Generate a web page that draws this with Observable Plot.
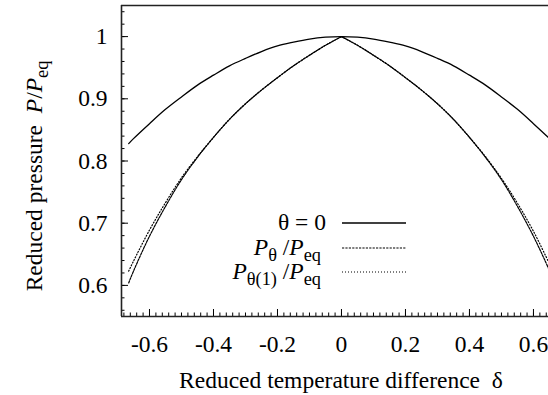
<!DOCTYPE html>
<html>
<head>
<meta charset="utf-8">
<script src="https://cdn.jsdelivr.net/npm/d3@7"></script>
<script src="https://cdn.jsdelivr.net/npm/@observablehq/plot@0.6"></script>
<style>
  html, body { margin: 0; padding: 0; background: #fff; }
</style>
</head>
<body>
<div id="chart"></div>
<script>
// ---- data ----
const delta = [-0.665, -0.65, -0.6, -0.55, -0.5, -0.45, -0.4, -0.35, -0.3, -0.25, -0.2, -0.15, -0.1, -0.05, 0,
               0.05, 0.1, 0.15, 0.2, 0.25, 0.3, 0.35, 0.4, 0.45, 0.5, 0.55, 0.6, 0.65, 0.665];
const theta0 = [0.828, 0.836, 0.860, 0.883, 0.903, 0.922, 0.938, 0.953, 0.965, 0.976, 0.985, 0.991, 0.996, 0.999, 1.000,
                0.999, 0.996, 0.991, 0.985, 0.976, 0.965, 0.953, 0.938, 0.922, 0.903, 0.883, 0.860, 0.836, 0.828];
const pTheta = [0.604, 0.623, 0.679, 0.727, 0.770, 0.806, 0.838, 0.867, 0.892, 0.914, 0.934, 0.953, 0.970, 0.986, 1.000,
                0.986, 0.970, 0.953, 0.934, 0.914, 0.892, 0.867, 0.838, 0.806, 0.770, 0.727, 0.679, 0.624, 0.606];
const pTheta1 = [0.623, 0.639, 0.689, 0.733, 0.773, 0.807, 0.838, 0.867, 0.892, 0.914, 0.934, 0.953, 0.970, 0.986, 1.000,
                 0.986, 0.970, 0.953, 0.934, 0.914, 0.892, 0.867, 0.838, 0.807, 0.772, 0.732, 0.687, 0.635, 0.620];

const xMajor = [-0.6, -0.4, -0.2, 0, 0.2, 0.4, 0.6];
const yMajor = [0.6, 0.7, 0.8, 0.9, 1];
const xMinor = d3.range(-34, 33).map(i => i / 50);
const yMinor = d3.range(28, 53).map(i => i / 50);

const xDomain = [-0.6875, 0.647];
const yDomain = [0.55, 1.05];

// tables
const solidRows = delta.map((d, i) => ({x: d, y: theta0[i]}));
const split = (vals) => delta.flatMap((d, i) => {
  const out = [];
  if (d <= 0) out.push({x: d, y: vals[i], side: "L"});
  if (d >= 0) out.push({x: d, y: vals[i], side: "R"});
  return out;
});
const dashRows = split(pTheta);
const dotRows = split(pTheta1);

const W = 548, H = 395, mL = 121, mR = 0, mT = 5, mB = 79;
const plotW = W - mL - mR, plotH = H - mT - mB;
const FONT = "Liberation Serif";
const FS = 23.5;

const chart = Plot.plot({
  width: W, height: H,
  marginLeft: mL, marginRight: mR, marginTop: mT, marginBottom: mB,
  style: {fontFamily: FONT, fontSize: FS + "px", background: "#fff", color: "#000"},
  x: {domain: xDomain},
  y: {domain: yDomain},
  marks: [
    Plot.tickX(xMinor, {x: d => d, insetTop: plotH - 3.5, stroke: "#000", strokeWidth: 1}),
    Plot.tickX(xMajor, {x: d => d, insetTop: plotH - 7, stroke: "#000", strokeWidth: 1}),
    Plot.tickY(yMinor, {y: d => d, insetRight: plotW - 3.5, stroke: "#000", strokeWidth: 1}),
    Plot.tickY(yMajor, {y: d => d, insetRight: plotW - 7, stroke: "#000", strokeWidth: 1}),
    Plot.ruleX([xDomain[0]], {stroke: "#222", strokeWidth: 1.6}),
    Plot.ruleY(yDomain, {stroke: "#222", strokeWidth: 1.6}),
    Plot.line(solidRows, {x: "x", y: "y", stroke: "#000", strokeWidth: 1.3, curve: "catmull-rom", clip: true}),
    Plot.line(dashRows, {x: "x", y: "y", z: "side", stroke: "#000", strokeWidth: 1.2, strokeDasharray: "2.2,1.2", curve: "catmull-rom", clip: true}),
    Plot.line(dotRows, {x: "x", y: "y", z: "side", stroke: "#000", strokeWidth: 1.2, strokeDasharray: "1,2", curve: "catmull-rom", clip: true}),
    Plot.axisX({ticks: xMajor, tickSize: 0, tickPadding: 19, label: null,
                tickFormat: d => d === 0 ? "0" : String(d), fontSize: FS}),
    Plot.axisY({ticks: yMajor, tickSize: 0, tickPadding: 14, label: null,
                tickFormat: d => String(d), fontSize: FS})
  ]
});

document.getElementById("chart").appendChild(chart);

const svg = d3.select(chart);
const xs = chart.scale("x");

function rich(sel, parts) {
  const SUB = 0.78 * FS, SHIFT = 6;
  let shifted = 0;
  for (const p of parts) {
    const t = sel.append("tspan").text(p.t);
    if (p.italic) t.attr("font-style", "italic");
    if (p.sub) {
      t.attr("font-size", SUB);
      if (!shifted) { t.attr("dy", SHIFT); shifted = 1; }
    } else if (shifted) {
      t.attr("dy", -SHIFT); shifted = 0;
    }
  }
}

// x axis title
const xt = svg.append("text")
  .attr("x", xs.apply(0)).attr("y", 388)
  .attr("text-anchor", "middle").attr("font-size", FS);
rich(xt, [{t: "Reduced temperature difference \u00a0\u03b4"}]);

// y axis title
const yt = svg.append("text")
  .attr("transform", "translate(42,176) rotate(-90)")
  .attr("text-anchor", "middle").attr("font-size", FS);
rich(yt, [{t: "Reduced pressure \u00a0"}, {t: "P", italic: true}, {t: "/"}, {t: "P", italic: true}, {t: "eq", sub: true}]);

// legend
const legend = [
  {y: 223, xe: 326, dash: null, parts: [{t: "\u03b8 = 0"}]},
  {y: 248, xe: 321, dash: "2.2,1.2", parts: [{t: "P", italic: true}, {t: "\u03b8", sub: true}, {t: " /"}, {t: "P", italic: true}, {t: "eq", sub: true}]},
  {y: 272, xe: 321, dash: "1,2", parts: [{t: "P", italic: true}, {t: "\u03b8(1)", sub: true}, {t: " /"}, {t: "P", italic: true}, {t: "eq", sub: true}]}
];
for (const l of legend) {
  const ln = svg.append("line")
    .attr("x1", 342).attr("x2", 406).attr("y1", l.y).attr("y2", l.y)
    .attr("stroke", "#000").attr("stroke-width", l.dash ? 1.2 : 1.3);
  if (l.dash) ln.attr("stroke-dasharray", l.dash);
  const t = svg.append("text")
    .attr("x", l.xe).attr("y", l.y + 7)
    .attr("text-anchor", "end").attr("font-size", FS);
  rich(t, l.parts);
}

// force the serif face on every text node
svg.selectAll("text, tspan")
  .attr("font-family", FONT)
  .style("font-family", "'Liberation Serif'");
</script>
</body>
</html>
